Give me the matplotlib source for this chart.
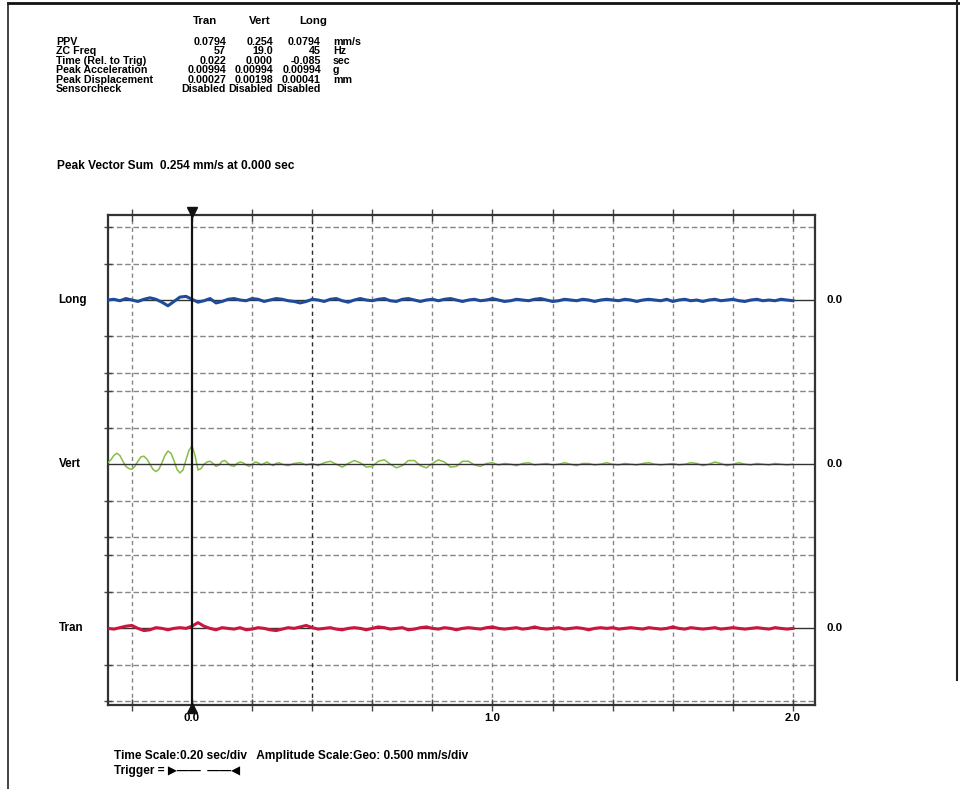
import numpy as np
import matplotlib.pyplot as plt
from matplotlib import transforms
from matplotlib.lines import Line2D

plt.rcParams['font.family'] = ['Liberation Sans', 'DejaVu Sans']
plt.rcParams['font.weight'] = 'bold'

# summary table
channels = ['Tran', 'Vert', 'Long']
row_labels = ['PPV', 'ZC Freq', 'Time (Rel. to Trig)', 'Peak Acceleration',
              'Peak Displacement', 'Sensorcheck']
tran_vals = ['0.0794', '57', '0.022', '0.00994', '0.00027', 'Disabled']
vert_vals = ['0.254', '19.0', '0.000', '0.00994', '0.00198', 'Disabled']
long_vals = ['0.0794', '45', '-0.085', '0.00994', '0.00041', 'Disabled']
units = ['mm/s', 'Hz', 'sec', 'g', 'mm', '']
peak_vector_sum = 'Peak Vector Sum  0.254 mm/s at 0.000 sec'

time_scale = 0.20   # sec/div
amp_scale = 0.500   # mm/s/div

# waveforms (mm/s), Long and Tran sampled every 0.02 s from -0.28 s
long_wave = [0.00, 0.01, -0.01, 0.02, 0.00, -0.02, 0.01, 0.03, 0.01, -0.03,
             -0.079, -0.02, 0.04, 0.05, 0.01, -0.03, -0.01, 0.02, -0.04, -0.02,
             0.01, 0.02, 0.00, -0.01, 0.02, 0.01, -0.02, 0.00, 0.02, 0.01,
             -0.01, -0.02, -0.04, -0.02, 0.01, 0.00, -0.02, 0.01, 0.02, -0.01,
             -0.03, 0.00, 0.02, 0.00, -0.01, 0.01, 0.02, -0.01, -0.02, 0.01,
             0.02, 0.00, -0.02, 0.00, 0.01, -0.01, 0.01, 0.02, 0.00, -0.02,
             0.00, 0.01, -0.01, 0.00, 0.02, 0.00, -0.02, -0.01, 0.01, 0.00,
             -0.01, 0.01, 0.02, 0.00, -0.02, -0.01, 0.01, 0.00, -0.01, 0.01,
             0.00, -0.02, 0.00, 0.01, 0.00, -0.01, 0.01, 0.00, -0.02, 0.00,
             0.01, 0.00, -0.01, 0.01, -0.02, 0.00, 0.01, -0.01, 0.00, -0.02,
             0.00, 0.01, -0.01, 0.00, 0.01, -0.01, -0.02, 0.00, 0.01, -0.01,
             0.00, -0.01, 0.01, 0.00, -0.01]
tran_wave = [0.00, -0.01, 0.01, 0.03, 0.04, 0.00, -0.03, -0.02, 0.01, 0.00,
             -0.02, 0.00, 0.01, 0.00, 0.03, 0.079, 0.03, 0.00, -0.02, 0.01,
             0.00, -0.01, 0.01, -0.02, -0.01, 0.01, 0.00, -0.02, -0.03, -0.01,
             0.01, 0.00, 0.02, 0.04, 0.01, -0.01, 0.00, 0.01, -0.01, -0.02,
             0.00, 0.01, 0.00, -0.02, 0.00, 0.02, 0.01, -0.01, 0.00, 0.01,
             -0.02, -0.01, 0.01, 0.02, 0.00, -0.01, 0.01, 0.00, -0.02, 0.00,
             0.01, 0.00, -0.01, 0.01, 0.02, 0.00, -0.01, 0.00, 0.01, -0.01,
             0.00, 0.02, 0.00, -0.01, 0.00, 0.01, -0.01, 0.00, 0.01, 0.00,
             -0.02, 0.00, 0.01, 0.00, 0.01, -0.01, 0.00, 0.01, 0.00, -0.01,
             0.01, 0.00, -0.01, 0.00, 0.02, 0.00, -0.01, 0.01, 0.00, -0.01,
             0.00, 0.01, -0.01, 0.00, 0.01, 0.00, -0.01, 0.00, 0.01, 0.00,
             -0.01, 0.01, 0.00, -0.01, 0.00]
# Vert: every 0.01 s from -0.28 s, then every 0.02 s from 0.30 s
vert_early = [0.02, 0.06, 0.12, 0.15, 0.12, 0.04, -0.03, -0.06, -0.07, -0.03,
              0.04, 0.10, 0.11, 0.07, 0.00, -0.07, -0.10, -0.07, 0.02, 0.12,
              0.18, 0.15, 0.05, -0.07, -0.12, -0.08, 0.06, 0.19, 0.254, 0.12,
              -0.08, -0.06, 0.00, 0.03, 0.04, 0.01, -0.03, -0.01, 0.04, 0.05,
              0.01, -0.02, -0.03, 0.01, 0.03, 0.02, -0.01, -0.03, 0.00, 0.03,
              0.02, -0.01, 0.01, 0.03, 0.00, -0.02, 0.01, 0.02]
vert_late = [0.00, -0.02, 0.01, 0.02, -0.01, 0.01, -0.02, 0.02, 0.04, 0.00,
             -0.04, 0.01, 0.05, 0.02, -0.04, -0.03, 0.04, 0.06, 0.00, -0.05,
             -0.02, 0.05, 0.05, -0.02, -0.05, 0.01, 0.06, 0.03, -0.04, -0.03,
             0.04, 0.04, -0.01, -0.03, 0.01, 0.02, -0.01, 0.01, 0.00, -0.02,
             0.01, 0.02, -0.01, 0.00, 0.01, -0.01, 0.00, 0.02, 0.00, -0.02,
             0.01, 0.01, -0.01, 0.00, 0.02, 0.00, -0.01, 0.01, 0.00, -0.01,
             0.01, 0.02, 0.00, -0.01, 0.00, 0.01, -0.01, 0.00, 0.02, 0.01,
             -0.02, 0.00, 0.03, 0.01, -0.02, 0.00, 0.02, 0.00, -0.01, 0.01,
             0.00, -0.01, 0.01, 0.00, -0.01, 0.00]

t_start = -0.28
t_long = t_start + 0.02 * np.arange(len(long_wave))
t_tran = t_start + 0.02 * np.arange(len(tran_wave))
t_vert = np.concatenate([t_start + 0.01 * np.arange(len(vert_early)),
                         0.30 + 0.02 * np.arange(len(vert_late))])
vert_wave = np.array(vert_early + vert_late)

W, H = 960, 789
fig = plt.figure(figsize=(W / 100, H / 100), dpi=100)


def fx(px):
    return px / W


def fy(py):
    return 1 - py / H


# page frame of the scanned report
fig.add_artist(Line2D([fx(8), fx(960)], [fy(3), fy(3)], color='#111', lw=2))
fig.add_artist(Line2D([fx(8), fx(8)], [fy(3), fy(789)], color='#222', lw=1.2))
fig.add_artist(Line2D([fx(957), fx(957)], [fy(0), fy(680)], color='#222', lw=1.5))

# header table
fs = 7.7
for name, x in zip(channels, [205, 260, 313]):
    fig.text(fx(x), fy(21), name, ha='center', va='center', fontsize=8.2)
for i, lab in enumerate(row_labels):
    y = fy(42 + i * 9.4)
    fig.text(fx(56), y, lab, ha='left', va='center', fontsize=fs)
    fig.text(fx(226), y, tran_vals[i], ha='right', va='center', fontsize=fs)
    fig.text(fx(273), y, vert_vals[i], ha='right', va='center', fontsize=fs)
    fig.text(fx(321), y, long_vals[i], ha='right', va='center', fontsize=fs)
    fig.text(fx(333), y, units[i], ha='left', va='center', fontsize=fs)
fig.text(fx(57), fy(166), peak_vector_sum, ha='left', va='center', fontsize=8.6)

# waveform panel
ax = fig.add_axes([fx(108), fy(705), fx(815) - fx(108), fy(215) - fy(705)])
x0, x1 = -0.2795, 2.0732
y0, y1 = -11.1, 2.33
ax.set_xlim(x0, x1)
ax.set_ylim(y0, y1)

baselines = {'Long': 0.0, 'Vert': -4.5, 'Tran': -9.0}
grid_y = []
for b in baselines.values():
    grid_y += [b + 2, b + 1, b - 1, b - 2]
grid_t = [round(-0.2 + time_scale * k, 2) for k in range(12)]

grid_col = '#8a8585'
ax.hlines(grid_y, x0, x1, colors=grid_col, lw=1.0, linestyles=(0, (4, 2)), zorder=1)
for t in grid_t:
    if t == 0.0:
        continue
    col = '#2a2a2a' if t == 0.4 else grid_col
    ax.vlines(t, y0, y1, colors=col, lw=1.0, linestyles=(0, (3, 2.5)), zorder=1)
ax.vlines(0.0, y0, y1, colors='#111', lw=1.6, zorder=5)

# baselines
for name, b in baselines.items():
    ax.axhline(b, color='#333', lw=1.0, zorder=4 if name == 'Vert' else 2)

ax.plot(t_long, baselines['Long'] + np.array(long_wave) / amp_scale,
        color='#1f4b9a', lw=2.2, zorder=3)
ax.plot(t_vert, baselines['Vert'] + vert_wave / amp_scale,
        color='#86bd45', lw=1.1, zorder=3)
ax.plot(t_tran, baselines['Tran'] + np.array(tran_wave) / amp_scale,
        color='#c8173f', lw=2.2, zorder=3)

# trigger markers
ax.plot([0.0], [y1 + 0.08], marker='v', ms=7, color='#111', clip_on=False, zorder=6)
ax.plot([0.0], [y0 - 0.08], marker='^', ms=7, color='#111', clip_on=False, zorder=6)

# ticks
ax.set_xticks(grid_t)
ax.set_xticklabels(['0.0' if t == 0.0 else '1.0' if t == 1.0 else '2.0' if t == 2.0 else ''
                    for t in grid_t], fontsize=8.2, fontweight='bold')
ax.tick_params(axis='x', top=True, bottom=True, direction='inout', length=8,
               width=1, color='#444', pad=2)
ax.set_yticks(grid_y)
ax.set_yticklabels([])
ax.tick_params(axis='y', left=True, right=False, direction='inout', length=6,
               width=1, color='#444')
for sp in ax.spines.values():
    sp.set_color('#333')
    sp.set_linewidth(1.6)

# channel labels
trans = transforms.blended_transform_factory(ax.transAxes, ax.transData)
for name, b in baselines.items():
    ax.text(-0.07, b, name, transform=trans, ha='left', va='center', fontsize=8.4)
    ax.text(1.016, b, '0.0', transform=trans, ha='left', va='center', fontsize=8.2)

# footer
fig.text(fx(114), fy(756),
         f'Time Scale:{time_scale:.2f} sec/div   Amplitude Scale:Geo: {amp_scale:.3f} mm/s/div',
         ha='left', va='center', fontsize=8.6)
fig.text(fx(114), fy(771), 'Trigger = \u25b6\u2014\u2014  \u2014\u2014\u25c0',
         ha='left', va='center', fontsize=8.6)

fig.savefig('out.png', dpi=100)
